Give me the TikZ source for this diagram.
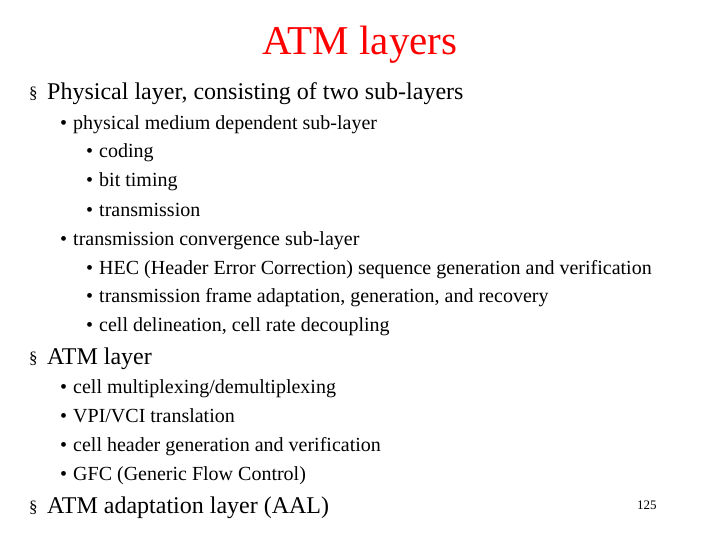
\documentclass[tikz,border=0pt]{standalone}
\usepackage{fontspec}
\setmainfont{Liberation Serif}
\begin{document}
\begin{tikzpicture}[x=1pt,y=-1pt,
  every node/.style={inner sep=0pt,anchor=base west},
  lvlone/.style={font=\fontsize{24}{26}\selectfont,yshift=-8pt},
  lvltwo/.style={font=\fontsize{20}{22}\selectfont,yshift=-7pt},
  secmark/.style={font=\fontsize{17}{18}\selectfont,yshift=-7pt},
  dotmark/.style={font=\fontsize{20}{22}\selectfont,yshift=-7pt}]
\useasboundingbox[fill=white] (0,0) rectangle (720,540);
\node[anchor=base,text=red,font=\fontsize{41}{44}\selectfont] (title) at (360,55) {ATM layers};
\node[secmark] (m1) at (29,92) {§};
\node[lvlone] (t1) at (47,92) {Physical layer, consisting of two sub-layers};
\node[dotmark] (b1) at (60,123) {•};
\node[lvltwo] (t11) at (73,123) {physical medium dependent sub-layer};
\node[dotmark] (b2) at (86,151) {•};
\node[lvltwo] (t12) at (99,151) {coding};
\node[dotmark] (b3) at (86,180) {•};
\node[lvltwo] (t13) at (99,180) {bit timing};
\node[dotmark] (b4) at (86,209) {•};
\node[lvltwo] (t14) at (99,209) {transmission};
\node[dotmark] (b5) at (60,238) {•};
\node[lvltwo] (t15) at (73,238) {transmission convergence sub-layer};
\node[dotmark] (b6) at (86,267) {•};
\node[lvltwo] (t16) at (99,267) {HEC (Header Error Correction) sequence generation and verification};
\node[dotmark] (b7) at (86,295) {•};
\node[lvltwo] (t17) at (99,295) {transmission frame adaptation, generation, and recovery};
\node[dotmark] (b8) at (86,324) {•};
\node[lvltwo] (t18) at (99,324) {cell delineation, cell rate decoupling};
\node[secmark] (m2) at (29,356) {§};
\node[lvlone] (t2) at (47,356) {ATM layer};
\node[dotmark] (b9) at (60,386) {•};
\node[lvltwo] (t21) at (73,386) {cell multiplexing/demultiplexing};
\node[dotmark] (b10) at (60,415) {•};
\node[lvltwo] (t22) at (73,415) {VPI/VCI translation};
\node[dotmark] (b11) at (60,444) {•};
\node[lvltwo] (t23) at (73,444) {cell header generation and verification};
\node[dotmark] (b12) at (60,473) {•};
\node[lvltwo] (t24) at (73,473) {GFC (Generic Flow Control)};
\node[secmark] (m3) at (29,505) {§};
\node[lvlone] (t3) at (47,505) {ATM adaptation layer (AAL)};
\node[font=\fontsize{13}{14}\selectfont,yshift=-4pt] (pg) at (637,505) {125};
\end{tikzpicture}
\end{document}
